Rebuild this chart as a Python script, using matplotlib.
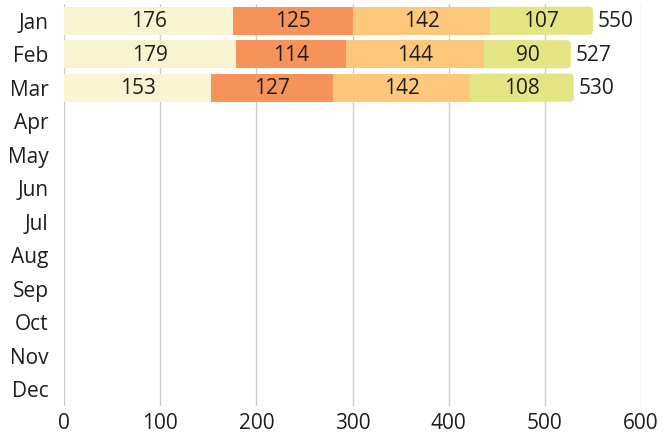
import matplotlib
matplotlib.use("Agg")
import matplotlib.pyplot as plt
from matplotlib.patches import FancyBboxPatch, Rectangle
import numpy as np

plt.rcParams['font.family'] = ['Open Sans', 'DejaVu Sans']

# data
months = ['Jan', 'Feb', 'Mar', 'Apr', 'May', 'Jun', 'Jul', 'Aug', 'Sep', 'Oct', 'Nov', 'Dec']
seg1 = [176, 179, 153]
seg2 = [125, 114, 127]
seg3 = [142, 144, 142]
seg4 = [107, 90, 108]
totals = [550, 527, 530]

colors = ['#f8f4d1', '#f5935a', '#fdc87b', '#e3e584']
txtcol = '#1e1e1e'
fts = 15

fig = plt.figure(figsize=(6.64, 4.33), dpi=100)
ax = fig.add_axes([64/664, 1-406/433, 577/664, 402/433])

ax.set_xlim(0, 600)
ax.set_ylim(11.5, -0.5)
bh = 0.84

xpx = 577/600.
ypx = 402/12.
rpx = 4.0

series = [seg1, seg2, seg3, seg4]
for i in range(len(seg1)):
    left = 0
    for k, s in enumerate(series):
        v = s[i]
        if k < len(series) - 1:
            ax.barh(i, v, left=left, height=bh, color=colors[k], linewidth=0, zorder=2)
        else:
            # last segment gets rounded right end
            r = rpx / xpx
            p = FancyBboxPatch((left, i - bh/2), v, bh,
                               boxstyle="round,pad=0,rounding_size=%f" % r,
                               mutation_aspect=(1/ypx)/(1/xpx),
                               facecolor=colors[k], linewidth=0, zorder=2)
            ax.add_patch(p)
            ax.add_patch(Rectangle((left, i - bh/2), v/2, bh, facecolor=colors[k],
                                   linewidth=0, zorder=2))
        ax.text(left + v/2, i + 0.03, str(v), ha='center', va='center', fontsize=fts,
                color=txtcol, zorder=3)
        left += v
    ax.text(totals[i] + 5, i + 0.03, str(totals[i]), ha='left', va='center', fontsize=fts,
            color=txtcol, zorder=3)

ax.set_yticks(np.arange(len(months)))
ax.set_yticklabels(months, fontsize=fts, color=txtcol)
ax.set_xticks(np.arange(0, 601, 100))
ax.tick_params(axis='x', labelsize=fts, colors=txtcol, length=0, pad=5)
ax.tick_params(axis='y', length=0, pad=11)
ax.grid(axis='x', color='#cccccc', linewidth=1, zorder=0)
ax.set_axisbelow(True)
for sp in ax.spines.values():
    sp.set_visible(False)

fig.savefig('out.png', dpi=100)
